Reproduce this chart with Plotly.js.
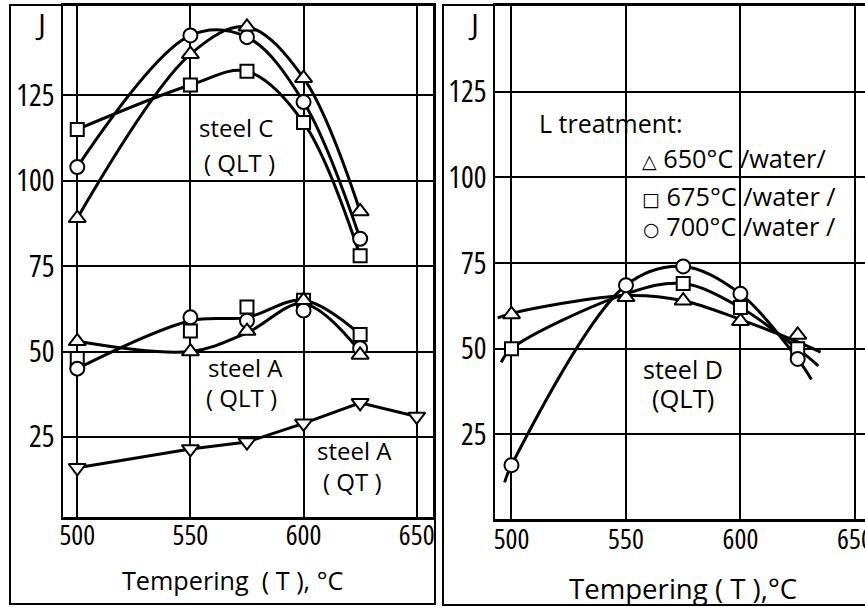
<!DOCTYPE html>
<html>
<head>
<meta charset="utf-8">
<script src="https://cdn.plot.ly/plotly-3.0.1.min.js"></script>
<style>
html,body{margin:0;padding:0;background:#fff;}
#chart{width:865px;height:607px;}
svg text{font-stretch:75% !important;}
svg text.annotation-text{font-stretch:90% !important;}
</style>
</head>
<body>
<div id="chart"></div>
<script>
// ---------- data ----------
const xTicks = [500, 550, 600, 650];
const yTicks = [25, 50, 75, 100, 125];

// Left panel: steels C and A
const temps = [500, 550, 575, 600, 625];
const steelC_650 = [89, 137, 145, 130, 91];
const steelC_675 = [115, 128, 132, 117, 78];
const steelC_700 = [104, 142.5, 142, 123, 83];

const steelA_QLT_650 = [53, 50, 56, 65, 49];
const steelA_QLT_675 = [48, 56, 63, 65, 55];
const steelA_QLT_700 = [45, 60, 59, 62, 51];
// drawn curves for steel A (QLT)
const curveA_lower = [53, 50, 55.5, 64, 50];
const curveA_upper = [45, 59, 60, 65, 55];

const tempsQT = [500, 550, 575, 600, 625, 650];
const steelA_QT = [16, 21.5, 23.5, 29, 35, 31];

// Right panel: steel D
const steelD_650 = [60, 65, 64, 58, 54];
const temps675D = [500, 575, 600, 625];
const steelD_675 = [50, 69, 62, 50];
const steelD_700 = [16, 68.5, 74, 66, 47];
// drawn (fitted) curves for steel D, incl. their tails
const curveD_650_x = [494, 500, 550, 575, 600, 625, 635];
const curveD_650_y = [59, 60.3, 65.5, 64, 58.5, 52, 49];
const curveD_675_x = [495.5, 500, 550, 575, 600, 625, 634];
const curveD_675_y = [46, 50, 66, 69, 62, 50, 45];
const curveD_700_x = [497, 500, 550, 575, 600, 625, 631];
const curveD_700_y = [11, 16, 68.5, 74, 66, 47, 41];

// ---------- helpers ----------
const W = 865, H = 607;
const FONT = "'Open Sans', 'DejaVu Sans', sans-serif";
const px = x => x / W;
const py = y => 1 - y / H;

function curve(x, y, xa, ya, shape) {
  return {x: x, y: y, xaxis: xa, yaxis: ya, mode: 'lines', type: 'scatter',
    line: {color: 'black', width: 3, shape: shape || 'spline', smoothing: 1}, hoverinfo: 'skip'};
}
function marks(x, y, xa, ya, symbol, size) {
  return {x: x, y: y, xaxis: xa, yaxis: ya, mode: 'markers', type: 'scatter',
    marker: {symbol: symbol, size: size || 14, color: 'white', line: {color: 'black', width: 2}}, hoverinfo: 'skip'};
}

const traces = [
  curve(temps, steelC_675, 'x', 'y'),
  curve(temps, steelC_700, 'x', 'y'),
  curve(temps, steelC_650, 'x', 'y'),
  curve(temps, curveA_lower, 'x', 'y'),
  curve(temps, curveA_upper, 'x', 'y'),
  curve(tempsQT, steelA_QT, 'x', 'y', 'linear'),
  marks(temps, steelC_675, 'x', 'y', 'square', 13),
  marks(temps, steelC_700, 'x', 'y', 'circle', 14),
  marks(temps, steelC_650, 'x', 'y', 'triangle-up', 15),
  marks(temps, steelA_QLT_675, 'x', 'y', 'square', 13),
  marks(temps, steelA_QLT_700, 'x', 'y', 'circle', 14),
  marks(temps, steelA_QLT_650, 'x', 'y', 'triangle-up', 15),
  marks(tempsQT, steelA_QT, 'x', 'y', 'triangle-down', 15),
  curve(curveD_650_x, curveD_650_y, 'x2', 'y2'),
  curve(curveD_675_x, curveD_675_y, 'x2', 'y2'),
  curve(curveD_700_x, curveD_700_y, 'x2', 'y2'),
  marks(temps, steelD_650, 'x2', 'y2', 'triangle-up', 15),
  marks(temps675D, steelD_675, 'x2', 'y2', 'square', 13),
  marks(temps, steelD_700, 'x2', 'y2', 'circle', 14)
];

const axisCommon = {
  showgrid: true, gridcolor: 'black', gridwidth: 2,
  showline: true, linecolor: 'black', linewidth: 2.5, mirror: true,
  ticks: '', zeroline: false, fixedrange: true, ticklabeloverflow: 'allow',
  tickfont: {family: FONT, size: 28, color: 'black'}
};

function ann(text, x, y, size, xanchor, extra) {
  return Object.assign({text: text, x: px(x), y: py(y), xref: 'paper', yref: 'paper',
    xanchor: xanchor || 'center', yanchor: 'middle', showarrow: false,
    font: {family: FONT, size: size, color: 'black'}}, extra || {});
}
// white patches that break the vertical grid lines behind the legend text
function patch(x0, x1, y0, y1) {
  return {type: 'rect', xref: 'paper', yref: 'paper', layer: 'between',
    x0: px(x0), x1: px(x1), y0: py(y1), y1: py(y0), fillcolor: 'white', line: {width: 0}};
}

const layout = {
  width: W, height: H,
  margin: {l: 0, r: 0, t: 0, b: 0},
  paper_bgcolor: 'white', plot_bgcolor: 'white',
  showlegend: false,
  font: {family: FONT, color: 'black'},
  xaxis: Object.assign({}, axisCommon, {domain: [px(63), px(433)], range: [493.7, 657.2], tickvals: xTicks, anchor: 'y', ticklabelstandoff: -8}),
  yaxis: Object.assign({}, axisCommon, {domain: [py(517.3), py(5)], range: [1.5, 151.4], tickvals: yTicks, anchor: 'x', tickfont: {family: FONT, size: 30, color: 'black'}}),
  xaxis2: Object.assign({}, axisCommon, {domain: [px(495), 1], range: [492.8, 654.4], tickvals: xTicks, anchor: 'y2', ticklabelstandoff: -6}),
  yaxis2: Object.assign({}, axisCommon, {domain: [py(519.3), py(5)], range: [0.2, 150.3], tickvals: yTicks, anchor: 'x2', tickfont: {family: FONT, size: 30, color: 'black'}}),
  shapes: [
    patch(617, 629, 95, 165),
    patch(737, 749, 122, 176),
    patch(737, 749, 182, 238),
    {type: 'rect', xref: 'paper', yref: 'paper', x0: px(10), x1: px(435), y0: py(604), y1: py(5), line: {color: 'black', width: 2}},
    {type: 'rect', xref: 'paper', yref: 'paper', x0: px(443), x1: px(870), y0: py(605), y1: py(5), line: {color: 'black', width: 2}}
  ],
  annotations: [
    ann('J', 40, 24, 30),
    ann('steel C', 236, 128, 24),
    ann('( QLT )', 240, 162, 24),
    ann('steel A', 245, 367, 24),
    ann('( QLT )', 241, 397, 24),
    ann('steel A', 354, 450, 24),
    ann('( QT )', 352, 481, 24),
    ann('Tempering  ( T ), °C', 233, 580, 25.2),
    ann('J', 474, 24, 30),
    ann('L treatment:', 537, 123, 25, 'left'),
    ann('<span style="font-size:19px">△</span> 650°C /water/', 640, 158, 25.3, 'left'),
    ann('<span style="font-size:19px">□</span> 675°C /water /', 640, 196, 25.3, 'left'),
    ann('<span style="font-size:19px">○</span> 700°C /water /', 641, 226, 25.3, 'left'),
    ann('steel D', 683, 369, 25),
    ann('(QLT)', 683, 398, 25.5),
    ann('Tempering ( T ),°C', 683, 588, 27.6)
  ]
};

Plotly.newPlot('chart', traces, layout, {staticPlot: true, displayModeBar: false});
</script>
</body>
</html>
